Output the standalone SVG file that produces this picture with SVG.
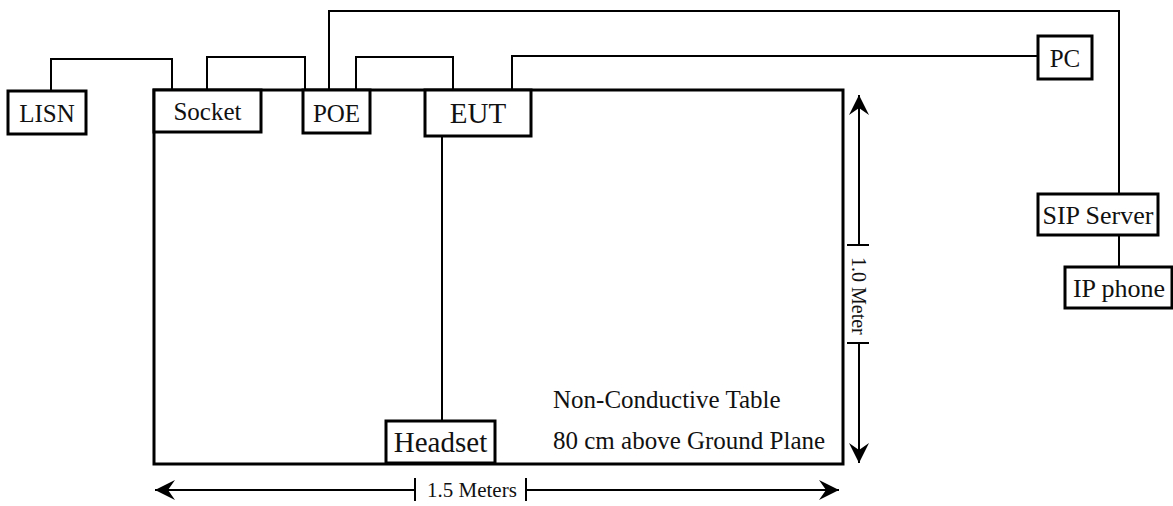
<svg xmlns="http://www.w3.org/2000/svg" width="1173" height="506" viewBox="0 0 1173 506">
<defs>
<style>
.box{fill:#fff;stroke:#000;stroke-width:3}
.wire{fill:none;stroke:#000;stroke-width:2}
.dim{fill:none;stroke:#000;stroke-width:2}
.t{font-family:"Liberation Serif","Times New Roman",serif;fill:#111;text-anchor:middle}
.s25{font-size:25px}
.s26{font-size:26px}
.s29{font-size:29px}
.note{font-family:"Liberation Serif","Times New Roman",serif;fill:#111;font-size:25px}
.dimt{font-family:"Liberation Serif","Times New Roman",serif;fill:#111;font-size:21px}
</style>
<marker id="arr" viewBox="-22 -11 24 22" refX="0" refY="0" markerWidth="24" markerHeight="22" markerUnits="userSpaceOnUse" orient="auto">
<path d="M0,0 L-20,-10 L-13,0 L-20,10 Z" fill="#000"/>
</marker>
</defs>
<rect width="1173" height="506" fill="#fff"/>
<g id="table">
<rect x="154" y="90" width="689" height="374" fill="#fff" stroke="#000" stroke-width="3"/>
<text class="note" x="553" y="408">Non-Conductive Table</text>
<text class="note" x="553" y="449">80 cm above Ground Plane</text>
</g>
<g id="connectors">
<path class="wire" d="M51,91 V59 H172 V90"/>
<path class="wire" d="M207,90 V57 H305 V90"/>
<path class="wire" d="M356,90 V57 H453 V90"/>
<path class="wire" d="M329,90 V11 H1119 V194"/>
<path class="wire" d="M512,90 V56 H1038"/>
<path class="wire" d="M1119,235 V267"/>
<path class="wire" d="M442,136 V421"/>
</g>
<g id="lisn"><rect class="box" x="8" y="91" width="78" height="43"/><text class="t s25" x="47" y="122">LISN</text></g>
<g id="socket"><rect class="box" x="154" y="90" width="107" height="42"/><text class="t s25" x="207.5" y="120">Socket</text></g>
<g id="poe"><rect class="box" x="303" y="90" width="67" height="43"/><text class="t s25" x="336.5" y="122">POE</text></g>
<g id="eut"><rect class="box" x="425" y="90" width="106" height="46"/><text class="t s29" x="478" y="123">EUT</text></g>
<g id="pc"><rect class="box" x="1038" y="36" width="54" height="43"/><text class="t s25" x="1065" y="67">PC</text></g>
<g id="sip"><rect class="box" x="1038" y="194" width="120" height="41"/><text class="t s26" x="1098" y="224">SIP Server</text></g>
<g id="ipphone"><rect class="box" x="1065" y="267" width="107" height="41"/><text class="t s26" x="1119" y="297">IP phone</text></g>
<g id="headset"><rect class="box" x="386" y="421" width="109" height="42"/><text class="t s29" x="440.5" y="452">Headset</text></g>
<g id="dimensions">
<path class="dim" d="M415,490 H155" marker-end="url(#arr)"/>
<path class="dim" d="M526,490 H839" marker-end="url(#arr)"/>
<path class="dim" d="M415,478 V501 M526,478 V501"/>
<text class="dimt" x="427" y="497">1.5 Meters</text>
<path class="dim" d="M859,245 V95" marker-end="url(#arr)"/>
<path class="dim" d="M859,343 V463" marker-end="url(#arr)"/>
<path class="dim" d="M847,245 H869 M847,343 H869"/>
<text class="dimt" style="font-size:20px" transform="translate(852,257) rotate(90)">1.0 Meter</text>
</g>
</svg>
